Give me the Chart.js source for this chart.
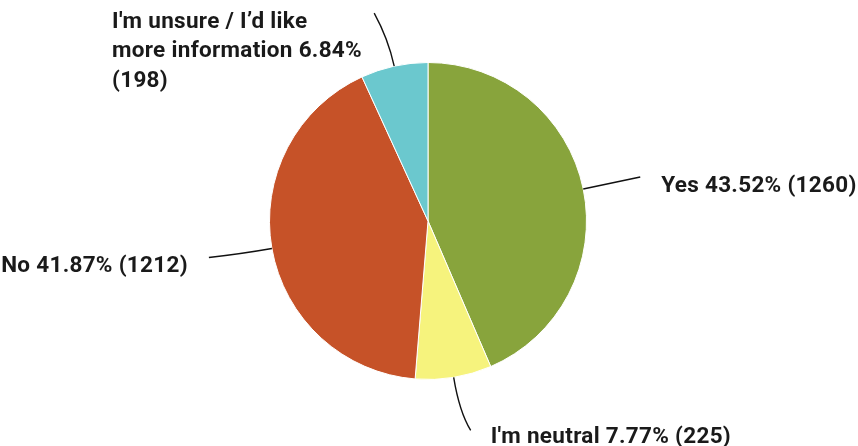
<!DOCTYPE html>
<html>
<head>
<meta charset="utf-8">
<script src="https://cdn.jsdelivr.net/npm/chart.js@4.4.0/dist/chart.umd.min.js"></script>
<style>
  html, body { margin: 0; padding: 0; background: #fff; }
  #wrap { width: 858px; height: 446px; position: relative; }
</style>
</head>
<body>
<div id="wrap"><canvas id="pie"></canvas></div>
<script>
// answer choices, in clockwise order from 12 o'clock
const categories = ['Yes', "I'm neutral", 'No', "I'm unsure / I\u2019d like more information"];
const counts = [1260, 225, 1212, 198];
const colors = ['#88a43c', '#f6f37d', '#c65228', '#6bc8ce'];

const total = counts.reduce((a, b) => a + b, 0);
const pct = counts.map(c => (c / total * 100).toFixed(2) + '%');

// label placement: leader end offset from slice edge, text offset from leader end
const labelLayout = [
  { dx: 57, dy: -12, bend: 30, tx: 21, ty: 9, align: 'left' },
  { dx: 17, dy: 53, bend: 35, tx: 20, ty: 7, align: 'left' },
  { dx: -63, dy: 9, bend: 30, tx: -21, ty: 9, align: 'right' },
  { dx: -20, dy: -53, bend: 28, tx: 0, ty: 0, align: 'left', block: { x: 112, y: 22, breakAt: 'like ' } }
];

const FONT = 'bold 22.5px Roboto, "Liberation Sans", sans-serif';

const leaderLabels = {
  id: 'leaderLabels',
  afterDatasetsDraw(chart) {
    const ctx = chart.ctx;
    const arcs = chart.getDatasetMeta(0).data;
    ctx.save();
    ctx.font = FONT;
    ctx.letterSpacing = '0.3px';
    ctx.fillStyle = '#1a1a1a';
    ctx.strokeStyle = '#111';
    ctx.lineWidth = 1.4;
    arcs.forEach((arc, i) => {
      const { x, y, startAngle, endAngle, outerRadius } = arc.getProps(['x', 'y', 'startAngle', 'endAngle', 'outerRadius'], true);
      const mid = (startAngle + endAngle) / 2;
      const cx = Math.cos(mid), cy = Math.sin(mid);
      const sx = x + outerRadius * cx, sy = y + outerRadius * cy;
      const L = labelLayout[i];
      const ex = sx + L.dx, ey = sy + L.dy;
      ctx.beginPath();
      ctx.moveTo(sx, sy);
      ctx.quadraticCurveTo(sx + cx * L.bend, sy + cy * L.bend, ex, ey);
      ctx.stroke();

      const text = `${categories[i]} ${pct[i]} (${counts[i]})`;
      ctx.textBaseline = 'middle';
      if (L.block) {
        const cat = categories[i];
        const k = cat.indexOf(L.block.breakAt) + L.block.breakAt.length;
        const lines = [cat.slice(0, k).trim(), cat.slice(k) + ' ' + pct[i], `(${counts[i]})`];
        ctx.textAlign = 'left';
        lines.forEach((ln, j) => ctx.fillText(ln, L.block.x, L.block.y + j * 29.5));
      } else {
        ctx.textAlign = L.align;
        ctx.fillText(text, ex + L.tx, ey + L.ty);
      }
    });
    ctx.restore();
  }
};

new Chart(document.getElementById('pie'), {
  type: 'pie',
  data: {
    labels: categories,
    datasets: [{
      data: counts,
      backgroundColor: colors,
      borderColor: '#ffffff',
      borderWidth: 1
    }]
  },
  options: {
    responsive: true,
    maintainAspectRatio: false,
    animation: false,
    layout: { padding: { top: 62, bottom: 66, left: 269, right: 271 } },
    plugins: {
      legend: { display: false },
      tooltip: { enabled: false }
    }
  },
  plugins: [leaderLabels]
});
</script>
</body>
</html>
